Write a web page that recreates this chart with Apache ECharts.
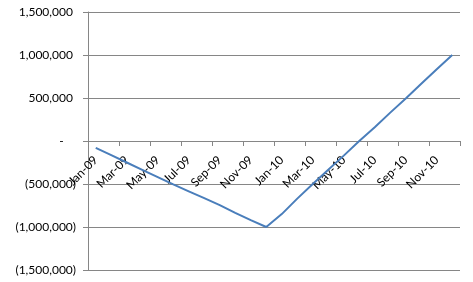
<!DOCTYPE html>
<html>
<head>
<meta charset="utf-8">
<script src="https://cdn.jsdelivr.net/npm/echarts@6/dist/echarts.min.js"></script>
<style>html,body{margin:0;padding:0;background:#fff}#c{width:473px;height:282px}</style>
</head>
<body>
<div id="c"></div>
<script>
var categories = ['Jan-09','Feb-09','Mar-09','Apr-09','May-09','Jun-09','Jul-09','Aug-09','Sep-09','Oct-09','Nov-09','Dec-09',
                  'Jan-10','Feb-10','Mar-10','Apr-10','May-10','Jun-10','Jul-10','Aug-10','Sep-10','Oct-10','Nov-10','Dec-10'];
var values = [-80000,-165000,-250000,-335000,-420000,-505000,-585000,-665000,-745000,-835000,-920000,-1000000,
              -850000,-670000,-500000,-335000,-170000,0,160000,330000,495000,665000,835000,1000000];
var yTicks = [-1500000,-1000000,-500000,0,500000,1000000,1500000];

function fmt(v){
  if (v === 0) return '-    ';
  var s = Math.abs(v).toLocaleString('en-US');
  return v < 0 ? '(' + s + ')' : s + ' ';
}

var gridTop = 12, gridBottom = 12, H = 282;
var plotH = H - gridTop - gridBottom;
var ymin = yTicks[0], ymax = yTicks[yTicks.length - 1];
// distance from grid bottom to the zero line, used to place the category axis at y = 0
var zeroOffset = -plotH * (0 - ymin) / (ymax - ymin);

var chart = echarts.init(document.getElementById('c'));
chart.setOption({
  animation: false,
  grid: {left: 88, right: 13, top: gridTop, bottom: gridBottom, containLabel: false, outerBoundsMode: 'none'},
  xAxis: {
    type: 'category',
    data: categories,
    boundaryGap: true,
    offset: zeroOffset,
    axisLine: {onZero: false, lineStyle: {color: '#868686', width: 1}},
    axisTick: {show: true, interval: 1, length: 5, lineStyle: {color: '#868686'}},
    axisLabel: {interval: 1, rotate: 45, margin: 17, color: '#000', fontFamily: 'Lato', fontSize: 12}
  },
  yAxis: {
    type: 'value',
    min: ymin,
    max: ymax,
    interval: 500000,
    axisLine: {show: true, lineStyle: {color: '#868686', width: 1}},
    axisTick: {show: true, length: 5, lineStyle: {color: '#868686'}},
    splitLine: {show: true, lineStyle: {color: '#868686', width: 1}},
    axisLabel: {formatter: fmt, margin: 12, color: '#000', fontFamily: 'Lato', fontSize: 12}
  },
  series: [{
    type: 'line',
    data: values,
    showSymbol: false,
    symbol: 'none',
    lineStyle: {color: '#4a7ebb', width: 2},
    itemStyle: {color: '#4a7ebb'}
  }]
});
</script>
</body>
</html>
